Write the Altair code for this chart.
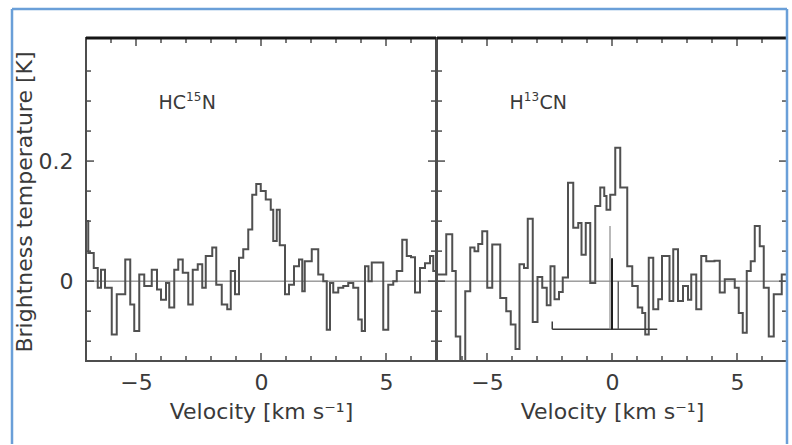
import altair as alt
import pandas as pd

FONT = "DejaVu Sans"
INK = "#3a3a3a"
FRAME = "#4d4d4d"
TRACE = "#505050"
BORDER = "#6a9fd8"

# HC15N spectrum: start velocity of each channel [km/s] and brightness temperature [K]
hc15n_v = [-7.00, -6.91, -6.69, -6.53, -6.40, -6.24, -5.97, -5.77, -5.43, -5.23,
           -5.07, -4.87, -4.67, -4.37, -4.16, -4.00, -3.80, -3.67, -3.47, -3.31,
           -3.13, -2.91, -2.73, -2.53, -2.35, -2.21, -1.95, -1.79, -1.57, -1.35,
           -1.21, -1.04, -0.88, -0.71, -0.51, -0.35, -0.19, -0.01, 0.19, 0.39,
           0.49, 0.63, 0.75, 0.96, 1.12, 1.32, 1.52, 1.65, 1.75, 2.03,
           2.29, 2.49, 2.63, 2.76, 2.89, 3.09, 3.29, 3.49, 3.69, 3.89,
           4.03, 4.16, 4.30, 4.43, 4.89, 5.09, 5.29, 5.43, 5.65, 5.83,
           6.00, 6.16, 6.36, 6.56, 6.76, 6.89]
hc15n_t = [0.100, 0.047, 0.022, -0.011, 0.019, -0.011, -0.089, -0.022, 0.036, -0.039,
           -0.083, 0.011, -0.008, 0.019, -0.014, -0.031, -0.003, -0.044, 0.019, 0.036,
           0.014, -0.039, 0.019, 0.028, -0.011, 0.042, 0.056, -0.006, -0.039, -0.047,
           0.017, -0.022, 0.039, 0.053, 0.086, 0.144, 0.162, 0.150, 0.136, 0.119,
           0.067, 0.119, 0.060, -0.022, -0.006, 0.025, 0.036, -0.017, 0.033, 0.053,
           0.011, 0.000, -0.081, -0.003, -0.019, -0.011, -0.008, -0.003, -0.011, -0.064,
           -0.083, 0.025, 0.000, 0.031, -0.081, -0.006, 0.000, 0.017, 0.069, 0.042,
           0.040, -0.019, 0.022, 0.030, 0.042, 0.017]

# H13CN spectrum
h13cn_v = [-7.00, -6.63, -6.39, -6.25, -6.07, -5.87, -5.67, -5.50, -5.35, -5.19,
           -4.99, -4.79, -4.47, -4.23, -4.05, -3.86, -3.70, -3.52, -3.37, -3.17,
           -2.98, -2.79, -2.61, -2.46, -2.30, -2.12, -1.97, -1.76, -1.55, -1.35,
           -1.22, -1.05, -0.87, -0.67, -0.47, -0.31, -0.22, -0.07, 0.13, 0.33,
           0.61, 0.81, 1.03, 1.21, 1.33, 1.47, 1.65, 1.85, 2.00, 2.30,
           2.45, 2.64, 2.84, 3.04, 3.17, 3.37, 3.57, 3.77, 4.10, 4.31,
           4.51, 4.91, 5.07, 5.23, 5.39, 5.55, 5.71, 5.91, 6.07, 6.27,
           6.47, 6.79]
h13cn_t = [0.011, 0.078, 0.017, -0.092, -0.145, -0.017, 0.056, 0.050, 0.062, 0.083,
           -0.011, 0.061, -0.028, -0.050, -0.072, -0.113, 0.028, 0.022, 0.104, -0.068,
           0.007, -0.011, -0.040, 0.025, -0.030, -0.018, 0.006, 0.164, 0.089, 0.097,
           0.044, 0.097, -0.003, 0.125, 0.156, 0.142, 0.119, 0.144, 0.222, 0.156,
           0.025, -0.008, -0.044, -0.053, -0.089, 0.039, -0.047, -0.030, 0.042, -0.033,
           0.053, -0.033, -0.008, -0.031, 0.011, -0.047, 0.042, 0.033, 0.034, -0.019,
           0.003, -0.011, -0.053, -0.086, 0.017, 0.033, 0.092, 0.058, -0.011, -0.092,
           -0.022, 0.011]

# Species labels, split into (text, is_superscript) pieces
hc15n_label = [("HC", False), ("15", True), ("N", False)]
h13cn_label = [("H", False), ("13", True), ("CN", False)]
label_v, label_t = -4.1, 0.287

# H13CN hyperfine pattern: baseline span, end cap and component sticks
hfs_span_v = [-2.39, 1.81]
hfs_base_t = -0.080
hfs_cap_t = -0.067
hfs_comp_v = [-0.08, 0.00, 0.25]
hfs_comp_top = [0.092, 0.038, 0.000]
hfs_comp_color = ["#8a8a8a", "#1e1e1e", "#555555"]
hfs_comp_width = [1.2, 2.0, 1.4]

V_DOMAIN = [-7.0, 7.0]
T_DOMAIN = [-0.133, 0.405]
PANEL_W, PANEL_H = 350, 323
GAP = 1

x_major = [-5, 0, 5]
x_minor = [-6, -4, -3, -2, -1, 1, 2, 3, 4, 6]
y_major = [0.0, 0.2]
y_minor = [-0.1, -0.05, 0.05, 0.1, 0.15, 0.25, 0.3, 0.35]
MAJOR_LEN, MINOR_LEN = 8, 5

LABEL_SIZE, SUP_SIZE = 19, 12
# DejaVu Sans advance widths (em) used to run the label pieces together
ADVANCE = {"H": 0.752, "C": 0.698, "N": 0.748, "1": 0.636, "3": 0.636, "5": 0.636}

x_scale = alt.Scale(domain=V_DOMAIN, nice=False, zero=False)
y_scale = alt.Scale(domain=T_DOMAIN, nice=False, zero=False)

x_axis = alt.Axis(
    values=x_major, ticks=False, tickSize=0, domain=False, grid=False,
    labelFont=FONT, labelFontSize=22, labelColor=INK, labelPadding=11,
    labelFlush=False,
    title="Velocity [km s\u207b\u00b9]", titleFont=FONT, titleFontSize=22,
    titleFontWeight="normal", titleColor=INK, titleY=57,
    titleBaseline="alphabetic",
)
y_axis_left = alt.Axis(
    values=y_major, labelExpr="datum.value == 0 ? '0' : format(datum.value, '.1f')",
    ticks=False, tickSize=0, domain=False, grid=False,
    labelFont=FONT, labelFontSize=22, labelColor=INK, labelPadding=13,
    title="Brightness temperature [K]", titleFont=FONT, titleFontSize=22,
    titleFontWeight="normal", titleColor=INK, titleX=-62, titleY=PANEL_H / 2 + 2,
    titleAlign="center", titleBaseline="middle", titleAngle=270,
)


def xenc(axis):
    return alt.X("v:Q", scale=x_scale, axis=axis)


def yenc(axis):
    return alt.Y("t:Q", scale=y_scale, axis=axis)


def tick_layers(X, Y):
    layers = []
    for vals, length in ((x_major, MAJOR_LEN), (x_minor, MINOR_LEN)):
        d = pd.DataFrame({"v": vals})
        base = alt.Chart(d).mark_rule(color=FRAME, strokeWidth=1.5)
        layers.append(base.encode(x=X, y=alt.value(PANEL_H), y2=alt.value(PANEL_H - length)))
        layers.append(base.encode(x=X, y=alt.value(0), y2=alt.value(length)))
    for vals, length in ((y_major, MAJOR_LEN), (y_minor, MINOR_LEN)):
        d = pd.DataFrame({"t": vals})
        base = alt.Chart(d).mark_rule(color=FRAME, strokeWidth=1.5)
        layers.append(base.encode(y=Y, x=alt.value(0), x2=alt.value(length)))
        layers.append(base.encode(y=Y, x=alt.value(PANEL_W - length), x2=alt.value(PANEL_W)))
    return layers


def label_layers(pieces, X, Y):
    df = pd.DataFrame({"v": [label_v], "t": [label_t]})
    layers, offset = [], 0.0
    for text, sup in pieces:
        size = SUP_SIZE if sup else LABEL_SIZE
        layers.append(
            alt.Chart(df).mark_text(
                align="left", baseline="alphabetic", font=FONT, fontSize=size,
                color=INK, text=text, dx=offset, dy=-8 if sup else 0,
            ).encode(x=X, y=Y)
        )
        offset += sum(ADVANCE[ch] for ch in text) * size + (0.5 if sup else 0)
    return layers


def panel(v, t, pieces, left):
    X = xenc(x_axis)
    Y = yenc(y_axis_left if left else None)

    spec = pd.DataFrame({"v": list(v) + [V_DOMAIN[1]], "t": list(t) + [t[-1]]})
    span = pd.DataFrame({"v": [V_DOMAIN[0]], "v2": [V_DOMAIN[1]], "t": [0.0]})

    zero = alt.Chart(span).mark_rule(color="#6a6a6a", strokeWidth=1).encode(
        x=X, x2="v2:Q", y=Y)
    trace = alt.Chart(spec).mark_line(
        interpolate="step-after", color=TRACE, strokeWidth=2, clip=True
    ).encode(x=X, y=Y)
    top = alt.Chart(span).mark_rule(color="#151515", strokeWidth=3).encode(
        x=X, x2="v2:Q", y=alt.value(0))

    layers = [zero, trace] + tick_layers(X, Y) + [top] + label_layers(pieces, X, Y)

    if not left:
        base_df = pd.DataFrame({"v": [hfs_span_v[0]], "v2": [hfs_span_v[1]],
                                "t": [hfs_base_t]})
        cap_df = pd.DataFrame({"v": [hfs_span_v[0]], "t": [hfs_base_t],
                               "t2": [hfs_cap_t]})
        comp_df = pd.DataFrame({"v": hfs_comp_v, "t": [hfs_base_t] * 3,
                                "t2": hfs_comp_top, "c": hfs_comp_color,
                                "w": hfs_comp_width})
        layers += [
            alt.Chart(base_df).mark_rule(color="#3a3a3a", strokeWidth=1.5).encode(
                x=X, x2="v2:Q", y=Y),
            alt.Chart(cap_df).mark_rule(color="#3a3a3a", strokeWidth=1.5).encode(
                x=X, y=Y, y2="t2:Q"),
            alt.Chart(comp_df).mark_rule().encode(
                x=X, y=Y, y2="t2:Q",
                color=alt.Color("c:N", scale=None),
                strokeWidth=alt.StrokeWidth("w:Q", scale=None)),
        ]
        # light frame drawn around the whole figure, on top of this panel's right edge
        one = pd.DataFrame({"k": [0]})
        frame = alt.Chart(one).mark_rule(color=BORDER, strokeWidth=2.5)
        left_edge = -(PANEL_W + GAP) - 74
        layers += [
            frame.encode(x=alt.value(left_edge), y=alt.value(-29), y2=alt.value(406)),
            frame.encode(x=alt.value(PANEL_W), y=alt.value(-29), y2=alt.value(406)),
            frame.encode(x=alt.value(left_edge), x2=alt.value(PANEL_W), y=alt.value(-29)),
        ]

    return alt.layer(*layers).properties(width=PANEL_W, height=PANEL_H)


left_panel = panel(hc15n_v, hc15n_t, hc15n_label, True)
right_panel = panel(h13cn_v, h13cn_t, h13cn_label, False)

chart = (
    alt.hconcat(left_panel, right_panel, spacing=GAP, bounds="flush")
    .properties(padding={"left": 9, "top": 6, "right": 0, "bottom": 0},
                background="white")
    .configure_view(stroke=FRAME, strokeWidth=2)
)

chart.save("out.html", embed_options={"renderer": "svg", "actions": False})
